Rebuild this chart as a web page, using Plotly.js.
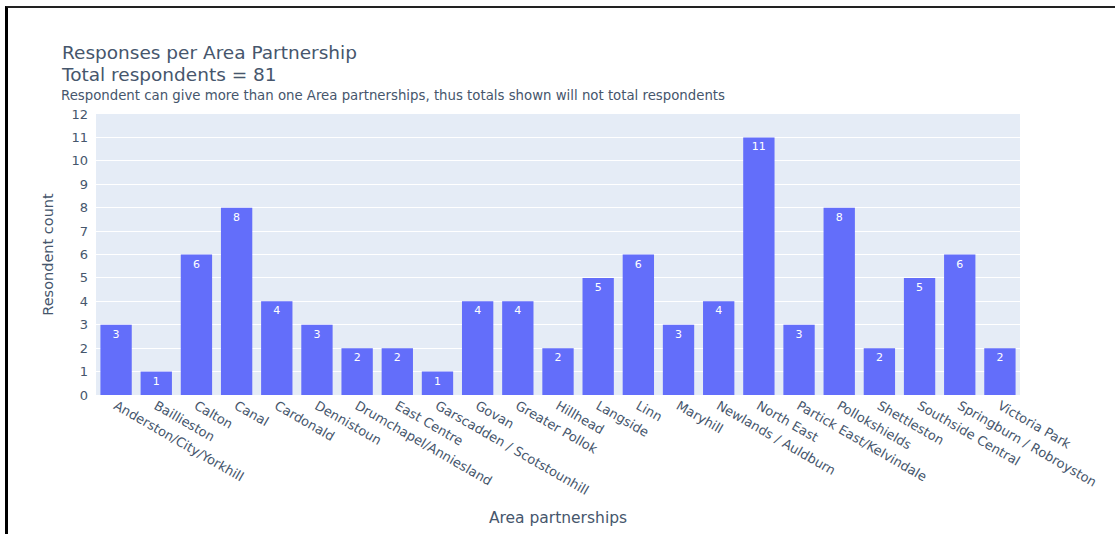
<!DOCTYPE html>
<html>
<head>
<meta charset="utf-8">
<script src="https://cdn.plot.ly/plotly-3.0.1.min.js"></script>
<style>
  html, body { margin: 0; padding: 0; background: #fff; width: 1115px; height: 534px; overflow: hidden; }
  #chart { position: absolute; left: 0; top: 0; width: 1115px; height: 534px; }
  #frame { position: absolute; left: 5px; top: 6px; width: 1115px; height: 540px;
           border-top: 2px solid #222; border-left: 3px solid #000; pointer-events: none; }
</style>
</head>
<body>
<div id="chart"></div>
<div id="frame"></div>
<script>
const categories = [
  "Anderston/City/Yorkhill", "Baillieston", "Calton", "Canal", "Cardonald",
  "Dennistoun", "Drumchapel/Anniesland", "East Centre", "Garscadden / Scotstounhill",
  "Govan", "Greater Pollok", "Hillhead", "Langside", "Linn", "Maryhill",
  "Newlands / Auldburn", "North East", "Partick East/Kelvindale", "Pollokshields",
  "Shettleston", "Southside Central", "Springburn / Robroyston", "Victoria Park"
];
const counts = [3, 1, 6, 8, 4, 3, 2, 2, 1, 4, 4, 2, 5, 6, 3, 4, 11, 3, 8, 2, 5, 6, 2];
const yTicks = [0,1,2,3,4,5,6,7,8,9,10,11,12];

const titleMain = "Responses per Area Partnership";
const titleTotal = "Total respondents = 81";
const titleNote = "Respondent can give more than one Area partnerships, thus totals shown will not total respondents";

const font = "DejaVu Sans, Verdana, sans-serif";
const textColor = "#46566c";

const trace = {
  type: "bar",
  x: categories,
  y: counts,
  text: counts.map(String),
  textposition: "inside",
  insidetextanchor: "end",
  textfont: { color: "#ffffff", size: 11, family: font },
  marker: { color: "#636efa" },
  hoverinfo: "x+y"
};

const layout = {
  width: 1115,
  height: 534,
  margin: { l: 96, r: 95, t: 114, b: 139 },
  paper_bgcolor: "#ffffff",
  plot_bgcolor: "#e5ecf6",
  font: { family: font, color: textColor, size: 12 },
  title: {
    text: titleMain,
    font: { size: 18.5, color: textColor, family: font },
    x: 62 / 1115, xanchor: "left", xref: "container",
    y: 1 - 53 / 534, yanchor: "middle", yref: "container"
  },
  annotations: [
    {
      text: titleTotal, showarrow: false,
      xref: "paper", yref: "paper",
      x: (59 - 96) / 924, y: (395 - 75) / 281,
      xanchor: "left", yanchor: "middle",
      font: { size: 18.5, color: textColor, family: font }
    },
    {
      text: titleNote, showarrow: false,
      xref: "paper", yref: "paper",
      x: (59 - 96) / 924, y: (395 - 95) / 281,
      xanchor: "left", yanchor: "middle",
      font: { size: 13.3, color: textColor, family: font }
    }
  ],
  bargap: 0.22,
  xaxis: {
    type: "category",
    tickangle: 30,
    tickfont: { size: 13, color: textColor, family: font },
    title: { text: "Area partnerships", font: { size: 15.5, color: textColor, family: font }, standoff: 15 },
    showgrid: false,
    automargin: false
  },
  yaxis: {
    range: [0, 12],
    tickvals: yTicks,
    ticktext: yTicks.map(String),
    ticklabelstandoff: 7,
    tickfont: { size: 13, color: textColor, family: font },
    gridcolor: "#ffffff",
    zeroline: true,
    zerolinecolor: "#ffffff",
    title: { text: "Resondent count", font: { size: 14.5, color: textColor, family: font }, standoff: 14 },
    automargin: false
  },
  showlegend: false
};

Plotly.newPlot("chart", [trace], layout, { displayModeBar: false, staticPlot: true });
</script>
</body>
</html>
